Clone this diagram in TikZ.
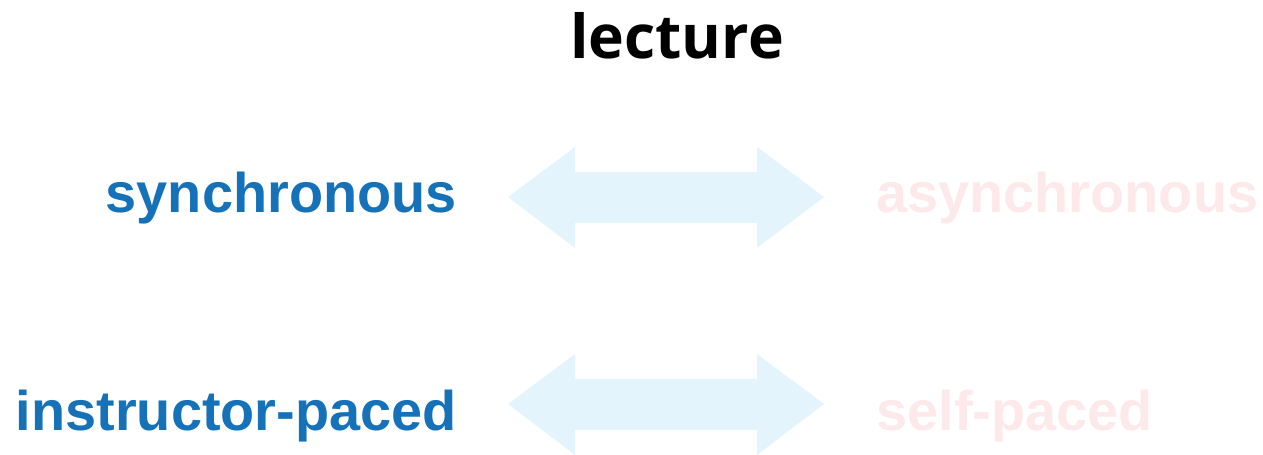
\documentclass[tikz,border=0pt]{standalone}
\usepackage{fontspec}
\setmainfont{Liberation Sans}
\newfontfamily\titlefont{Open Sans}
\definecolor{lectblue}{RGB}{21,114,184}
\definecolor{lectpink}{RGB}{253,232,234}
\definecolor{arrowblue}{RGB}{227,244,252}
\tikzset{
  sidetext/.style={inner sep=0pt, font=\fontsize{31.8}{36}\selectfont\bfseries},
  leftside/.style={sidetext, color=lectblue, anchor=base east},
  rightside/.style={sidetext, color=lectpink, anchor=base west},
  twoway/.style={fill=arrowblue, draw=none}
}
\begin{document}
\begin{tikzpicture}[x=0.02cm,y=-0.02cm]
  \useasboundingbox (0,0) rectangle (1263,455);
  \node [inner sep=0pt, anchor=base, font=\titlefont\fontsize{34.5}{38}\selectfont\bfseries] (lecture) at (677,59) {lecture};

  \node [leftside] (sync) at (457,213) {synchronous};
  \node [rightside] (async) at (876,213) {asynchronous};
  \fill [twoway] (508,197) -- (575,147) -- (575,172) -- (757,172) -- (757,147) -- (824,197)
    -- (757,248) -- (757,223) -- (575,223) -- (575,248) -- cycle;

  \node [leftside] (instr) at (457,430) {instructor-paced};
  \node [rightside] (self) at (876,430) {self-paced};
  \fill [twoway] (508,404) -- (575,354) -- (575,379) -- (757,379) -- (757,354) -- (824,404)
    -- (757,455) -- (757,430) -- (575,430) -- (575,455) -- cycle;
\end{tikzpicture}
\end{document}
